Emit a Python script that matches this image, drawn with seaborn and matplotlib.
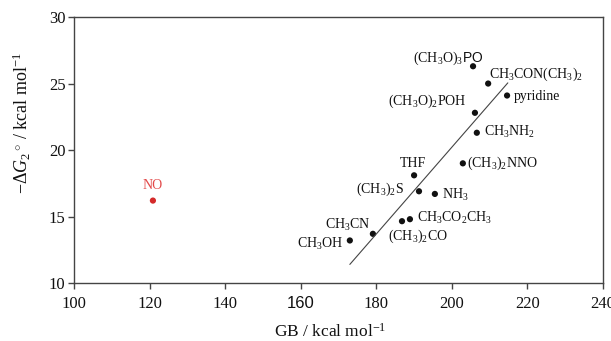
import numpy as np
import pandas as pd
import matplotlib
matplotlib.use("Agg")
import matplotlib.pyplot as plt
import seaborn as sns

# data: GB (x) and -dG2 (y)
names = ["CH$_3$OH", "CH$_3$CN", "(CH$_3$)$_2$CO", "CH$_3$CO$_2$CH$_3$",
         "(CH$_3$)$_2$S", "THF", "NH$_3$", "(CH$_3$)$_2$NNO", "CH$_3$NH$_2$",
         "(CH$_3$O)$_2$POH", "pyridine", "CH$_3$CON(CH$_3$)$_2$",
         r"(CH$_3$O)$_3\mathsf{PO}$"]
gb = [173.0, 179.1, 186.8, 188.9, 191.3, 190.0, 195.5, 202.9, 206.6,
      206.1, 214.6, 209.6, 205.6]
dg = [13.2, 13.7, 14.65, 14.8, 16.9, 18.1, 16.7, 19.0, 21.3,
      22.8, 24.1, 25.0, 26.3]

no_gb = [120.9]
no_dg = [16.2]

fit_gb = [173.0, 214.8]
fit_dg = [11.4, 25.05]

xticks = [100, 120, 140, 160, 180, 200, 220, 240]
yticks = [10, 15, 20, 25, 30]

# label offsets in pixels (dx, dy, ha)
offsets = [(-7, -3, "right"), (-2, 9, "right"), (-14, -15, "left"),
           (7, 1, "left"), (-15, 2, "right"), (-1, 12, "center"),
           (7, -1, "left"), (4, 0, "left"), (7, 1, "left"),
           (-8, 11, "right"), (7, -1, "left"), (1, 9, "left"),
           (10, 8, "right")]

sns.set_theme(style="ticks")
plt.rcParams["font.family"] = ["Liberation Serif", "DejaVu Serif"]
plt.rcParams["mathtext.fontset"] = "custom"
plt.rcParams["mathtext.rm"] = "Liberation Serif"
plt.rcParams["mathtext.it"] = "Liberation Serif:italic"
plt.rcParams["mathtext.sf"] = "Liberation Sans"
plt.rcParams["mathtext.default"] = "rm"

df = pd.DataFrame({"GB": gb, "dG": dg, "name": names})
df_no = pd.DataFrame({"GB": no_gb, "dG": no_dg})
df_fit = pd.DataFrame({"GB": fit_gb, "dG": fit_dg})

fig = plt.figure(figsize=(6.11, 3.41), dpi=100)
ax = fig.add_axes([0.121, 0.170, 0.866, 0.780])

sns.lineplot(data=df_fit, x="GB", y="dG", ax=ax, color="#444444", lw=0.8)
sns.scatterplot(data=df, x="GB", y="dG", ax=ax, color="#111111", s=20,
                edgecolor="none")
sns.scatterplot(data=df_no, x="GB", y="dG", ax=ax, color="#d42a2a", s=20,
                edgecolor="none")

for (n, x, y), (dx, dy, ha) in zip(zip(names, gb, dg), offsets):
    ax.annotate(n, (x, y), xytext=(dx, dy), textcoords="offset pixels",
                ha=ha, va="center", fontsize=10, color="#111111")
ax.annotate("NO", (no_gb[0], no_dg[0]), xytext=(0, 15),
            textcoords="offset pixels", ha="center", va="center",
            fontsize=10, color="#e24a4a")

ax.set_xlim(100, 240)
ax.set_ylim(10, 30)
ax.set_xticks(xticks)
ax.set_xticklabels([str(t) for t in xticks])
ax.set_yticks(yticks)
for lab in ax.get_xticklabels():
    if lab.get_text() == "160":
        lab.set_fontfamily("Liberation Sans")

ax.tick_params(axis="both", direction="out", length=4, width=1,
               color="#444444", labelsize=12, labelcolor="#111111")
ax.tick_params(axis="x", pad=5)
ax.tick_params(axis="y", pad=2)
for sp in ax.spines.values():
    sp.set_visible(True)
    sp.set_color("#444444")
    sp.set_linewidth(1.0)

ax.set_xlabel("GB / kcal mol$^{-1}$", fontsize=12.5, color="#111111")
ax.xaxis.set_label_coords(0.484, -0.150)
ax.set_ylabel(r"$-\Delta \mathit{G}_2\,^{\circ}$ / kcal mol$^{-1}$",
              fontsize=13, color="#111111")
ax.yaxis.set_label_coords(-0.078, 0.60)

fig.savefig("out.png", dpi=100)
